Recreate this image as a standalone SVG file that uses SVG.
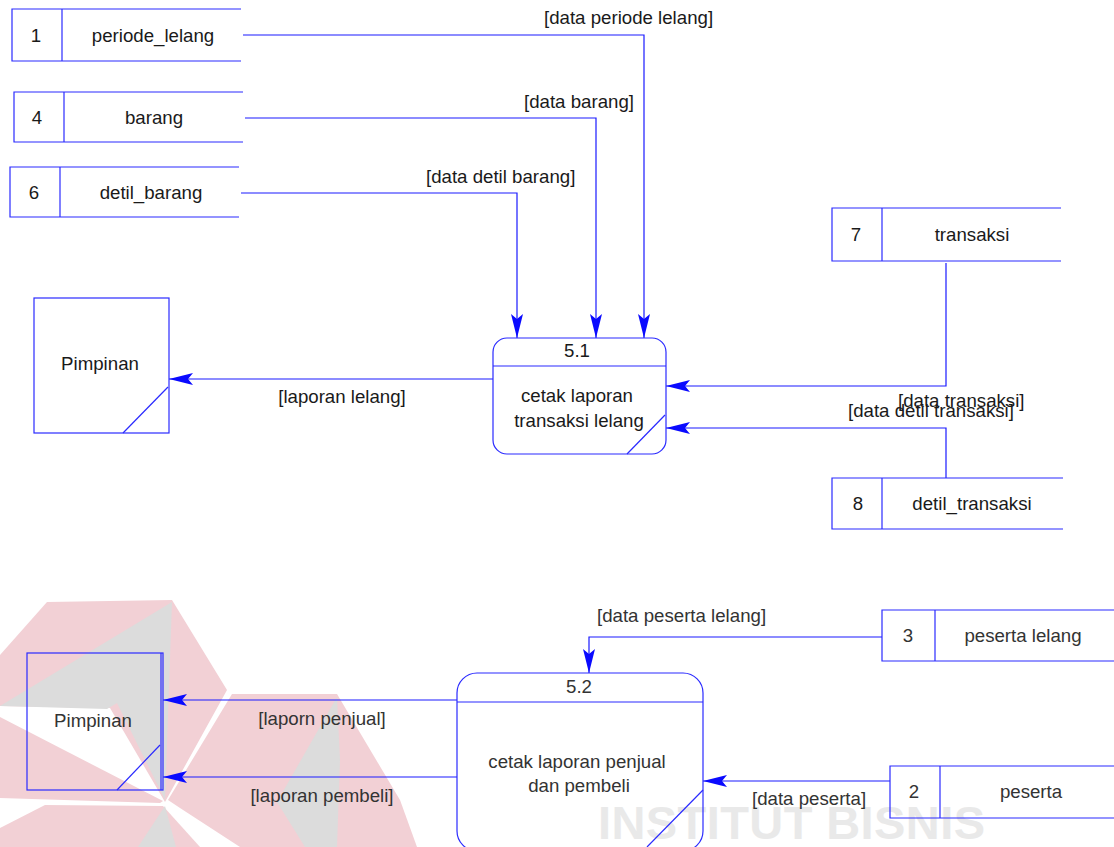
<svg xmlns="http://www.w3.org/2000/svg" width="1114" height="847" viewBox="0 0 1114 847">
<defs>
<marker id="arr" viewBox="0 0 24 12" refX="24" refY="6" markerWidth="24" markerHeight="12" markerUnits="userSpaceOnUse" orient="auto">
<path d="M0,0 L24,6 L0,12 L5,6 Z" fill="#0a0aff"/>
</marker>
</defs>
<style>
.s{fill:none;stroke:#2a2aff;stroke-width:1.2}
.c{fill:none;stroke:#1a1aff;stroke-width:1.2}
.t{font-family:"Liberation Sans",Arial,sans-serif;font-size:18.67px;fill:#1a1a1a;text-anchor:middle}
.b{fill:#333}
.l{text-anchor:start}
.pk{fill:#f2d0d5}
.gy{fill:#dcdcdc}
</style>
<rect width="1114" height="847" fill="#fff"/>
<g id="watermark">
<polygon class="pk" points="165,802 227,690 172,600 47,602 0,655 0,706 110,708"/>
<polygon class="gy" points="172,602 0,706 107,709 117,703 165,800"/>
<polygon class="pk" points="163,801 0,717 0,798 160,803"/>
<polygon class="pk" points="163,806 45,805 0,828 0,847 200,847"/>
<polygon class="gy" points="165,806 138,847 176,847"/>
<polygon class="pk" points="168,800 232,694 337,694 400,800 417,847 240,847 180,808"/>
<polygon class="gy" points="337,697 277,802 305,847 337,847 340,760"/>
<text x="598" y="839" font-family="'Liberation Sans',Arial,sans-serif" font-weight="bold" font-size="47" fill="#e9e9e9" textLength="387" lengthAdjust="spacing">INSTITUT BISNIS</text>
</g>
<g id="connectors">
<polyline class="c" points="243,35 644,35 644,338" marker-end="url(#arr)"/>
<polyline class="c" points="245,118 596,118 596,338" marker-end="url(#arr)"/>
<polyline class="c" points="241,193 517,193 517,338" marker-end="url(#arr)"/>
<line class="c" x1="493" y1="379" x2="169" y2="379" marker-end="url(#arr)"/>
<polyline class="c" points="946,263 946,386 666,386" marker-end="url(#arr)"/>
<polyline class="c" points="946,478 946,428 666,428" marker-end="url(#arr)"/>
<polyline class="c" points="882,637 589,637 589,673" marker-end="url(#arr)"/>
<line class="c" x1="890" y1="781" x2="703" y2="781" marker-end="url(#arr)"/>
<line class="c" x1="457" y1="700" x2="163" y2="700" marker-end="url(#arr)"/>
<line class="c" x1="457" y1="777" x2="163" y2="777" marker-end="url(#arr)"/>
<text class="t l" x="544" y="24">[data periode lelang]</text>
<text class="t l" x="524" y="108">[data barang]</text>
<text class="t l" x="426" y="183">[data detil barang]</text>
<text class="t" x="342" y="403">[laporan lelang]</text>
<text class="t l" x="848" y="417">[data detil transaksi]</text>
<text class="t l" x="898" y="407">[data transaksi]</text>
<text class="t b l" x="597" y="622">[data peserta lelang]</text>
<text class="t b" x="322" y="725">[laporn penjual]</text>
<text class="t b" x="322" y="802">[laporan pembeli]</text>
<text class="t b l" x="752" y="805">[data peserta]</text>
</g>
<g id="store1">
<polyline class="s" points="241,9 12,9 12,61 241,61"/><line class="s" x1="62" y1="9" x2="62" y2="61"/>
<text class="t" x="36" y="42">1</text><text class="t" x="153" y="42">periode_lelang</text>
</g>
<g id="store4">
<polyline class="s" points="243,92 14,92 14,142 243,142"/><line class="s" x1="64" y1="92" x2="64" y2="142"/>
<text class="t" x="37" y="124">4</text><text class="t" x="154" y="124">barang</text>
</g>
<g id="store6">
<polyline class="s" points="239,167 10,167 10,217 239,217"/><line class="s" x1="60" y1="167" x2="60" y2="217"/>
<text class="t" x="34" y="199">6</text><text class="t" x="151" y="199">detil_barang</text>
</g>
<g id="store7">
<polyline class="s" points="1061,208 832,208 832,261 1061,261"/><line class="s" x1="882" y1="208" x2="882" y2="261"/>
<text class="t" x="856" y="241">7</text><text class="t" x="972" y="241">transaksi</text>
</g>
<g id="store8">
<polyline class="s" points="1063,478 832,478 832,529 1063,529"/><line class="s" x1="882" y1="478" x2="882" y2="529"/>
<text class="t" x="858" y="510">8</text><text class="t" x="972" y="510">detil_transaksi</text>
</g>
<g id="pimpinan1">
<rect class="s" x="34" y="298" width="135" height="135"/>
<line class="s" x1="168" y1="387" x2="123" y2="433"/>
<text class="t" x="100" y="370">Pimpinan</text>
</g>
<g id="process51">
<rect class="s" x="493" y="338" width="173" height="116" rx="14" ry="14"/>
<line class="s" x1="493" y1="366" x2="666" y2="366"/>
<line class="s" x1="665" y1="415" x2="627" y2="454"/>
<text class="t" x="577" y="357">5.1</text>
<text class="t" x="577" y="402">cetak laporan</text>
<text class="t" x="579" y="427">transaksi lelang</text>
</g>
<g id="store3">
<polyline class="s" points="1114,610 882,610 882,661 1114,661"/><line class="s" x1="935" y1="610" x2="935" y2="661"/>
<text class="t b" x="908" y="642">3</text><text class="t b" x="1023" y="642">peserta lelang</text>
</g>
<g id="store2">
<polyline class="s" points="1114,766 890,766 890,818 1114,818"/><line class="s" x1="940" y1="766" x2="940" y2="818"/>
<text class="t b" x="914" y="798">2</text><text class="t b" x="1031" y="798">peserta</text>
</g>
<g id="pimpinan2">
<rect class="s" x="27" y="653" width="136" height="137"/>
<line class="s" x1="161" y1="653" x2="161" y2="790"/>
<line class="s" x1="160" y1="745" x2="117" y2="790"/>
<text class="t b" x="93" y="727">Pimpinan</text>
</g>
<g id="process52">
<rect class="s" x="457" y="673" width="246" height="178" rx="20" ry="20"/>
<line class="s" x1="457" y1="702" x2="703" y2="702"/>
<line class="s" x1="703" y1="790" x2="647" y2="847"/>
<text class="t b" x="579" y="693">5.2</text>
<text class="t b" x="577" y="768">cetak laporan penjual</text>
<text class="t b" x="579" y="792">dan pembeli</text>
</g>
</svg>
